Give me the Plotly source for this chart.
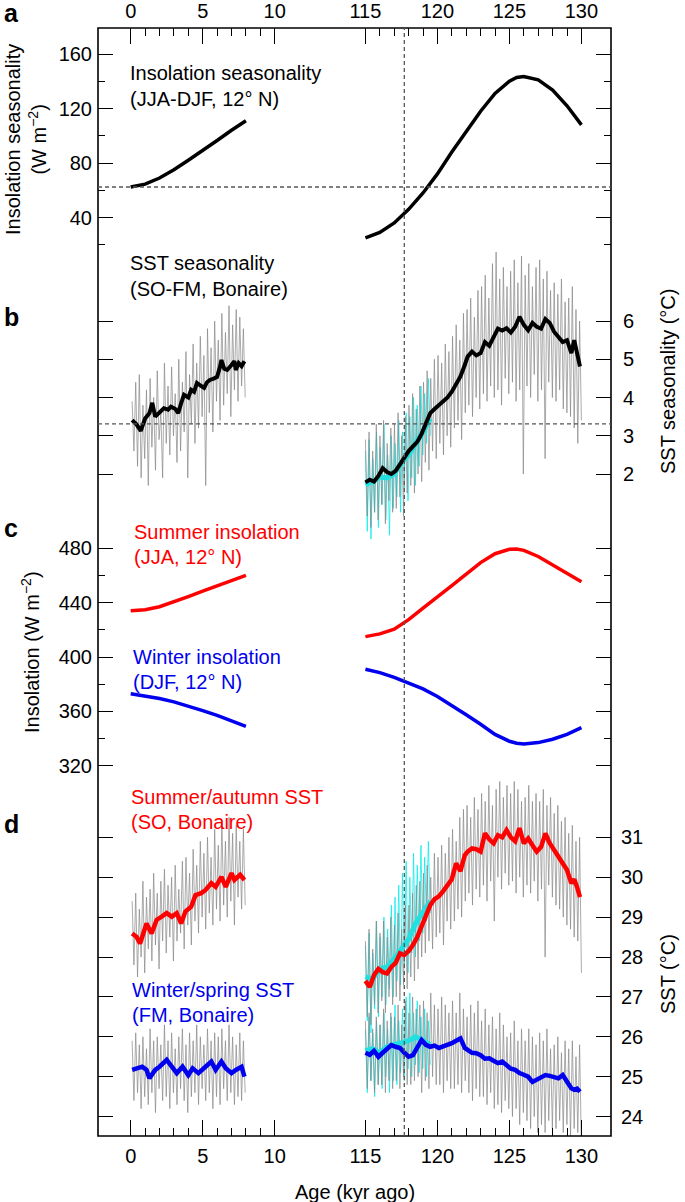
import numpy as np
import plotly.graph_objects as go

# ===================== DATA =====================
# broken age axis: 0-10 kyr and 115-130 kyr
x_tick_ages = [0, 5, 10, 115, 120, 125, 130]
x_tick_labels = ['0', '5', '10', '115', '120', '125', '130']
x_minor_ages = [1, 2, 3, 4, 6, 7, 8, 9, 116, 117, 118, 119, 121, 122, 123, 124, 126, 127, 128, 129]
event_age = 117.7

# (a) insolation seasonality JJA-DJF 12N
ins_holo_age = [0, 1, 2, 3, 4, 5, 6, 7, 8]
ins_lig_age = [115, 116, 117, 118, 119, 120, 121, 122, 123, 124, 125, 125.5, 126, 127, 128, 129, 130]
seas_holo = [62.4, 64.5, 69, 75, 82, 89, 96.5, 104, 111]
seas_lig = [25, 29, 36, 46, 58, 72, 88, 103, 118, 131, 140, 142.8, 143.5, 141, 133.5, 122, 108]
seas_ref = 62.4

# (c) summer (JJA) and winter (DJF) insolation 12N
summer_holo = [434, 434.8, 437, 440.5, 444.5, 448.5, 452.5, 456.5, 460]
summer_lig = [415, 417, 420.5, 427.5, 436, 444, 452.5, 461, 469.5, 476, 479.3, 479.5, 478.5, 474, 468, 461.5, 455.4]
winter_holo = [373, 371.5, 369.5, 367, 364, 360.5, 357, 353, 349]
winter_lig = [391, 388.5, 385, 381, 376.5, 371, 364.5, 357.5, 350.5, 343, 338, 336.5, 336, 337, 339.5, 343, 348]

# raw (monthly-resolved) coral series sample ages
raw_holo_age = np.linspace(0.1, 7.95, 64)
raw_lig_age = np.linspace(115.0, 130.0, 120)
cyan_raw_age = np.linspace(115.0, 119.5, 36)

# (b) SST seasonality (SO-FM)
b_holo_raw = [3.9, 2.6, 4.4, 2.2, 4.6, 1.9, 3.8, 2.4, 4.2, 1.7,
              4.5, 2.7, 4.0, 2.1, 4.7, 2.9, 3.6, 1.9, 4.9, 2.8,
              4.3, 2.5, 4.8, 3.0, 4.1, 2.3, 5.0, 2.6, 4.4, 3.1,
              5.2, 1.9, 4.6, 3.3, 5.4, 2.8, 4.9, 3.2, 5.6, 3.5,
              5.1, 1.7, 5.8, 3.6, 5.3, 3.1, 6.0, 3.9, 5.5, 3.4,
              6.2, 3.8, 5.7, 4.1, 6.4, 3.5, 5.9, 4.2, 6.3, 3.9,
              6.1, 4.3, 5.8, 4.0]
b_lig_raw = [2.9, 0.9, 3.1, 0.6, 2.6, 1.0, 3.3, 0.8,
             3.0, 1.2, 3.4, 0.7, 2.8, 1.3, 3.2, 1.0,
             3.3, 1.1, 3.6, 1.4, 3.0, 0.9, 3.5, 1.5,
             3.8, 1.7, 4.1, 1.5, 3.7, 2.0, 4.3, 1.8,
             4.4, 2.3, 4.7, 2.1, 4.5, 2.6, 5.0, 2.4,
             5.1, 2.8, 4.9, 2.5, 5.4, 3.0, 5.2, 2.7,
             5.6, 3.2, 5.9, 3.4, 5.5, 2.9, 6.2, 3.6,
             6.3, 3.8, 6.6, 3.5, 6.1, 4.0, 6.8, 3.7,
             6.9, 4.1, 7.2, 3.9, 6.6, 4.3, 7.5, 4.0,
             7.8, 4.2, 7.1, 3.8, 7.4, 4.5, 6.9, 4.1,
             7.3, 4.4, 7.6, 3.9, 7.0, 4.2, 7.7, 2.0,
             7.2, 4.3, 7.5, 4.0, 6.9, 4.6, 7.4, 3.9,
             7.6, 4.2, 7.1, 2.4, 7.3, 4.4, 6.8, 4.0,
             7.0, 3.9, 6.7, 4.2, 7.1, 3.7, 6.5, 3.6,
             6.6, 3.5, 6.9, 3.2, 6.3, 2.8, 6.0, 3.4]
b_cyan_raw = [2.6, 0.5, 2.9, 0.3, 2.4, 1.0, 3.1, 0.6, 2.7, 1.2,
              3.3, 0.8, 2.5, 0.4, 3.0, 1.1, 2.8, 1.4, 3.4, 1.0,
              3.1, 1.6, 3.6, 1.3, 3.5, 1.9, 4.0, 1.7, 3.8, 2.2,
              4.3, 2.5, 4.1, 2.8, 4.5, 3.0]
b_holo_age = [0.1, 0.4, 0.7, 1.0, 1.3, 1.5, 1.7, 2.0, 2.3, 2.6, 2.8, 3.1, 3.3, 3.5, 3.7, 4.0, 4.2, 4.4,
              4.6, 4.9, 5.1, 5.3, 5.5, 5.8, 6.0, 6.2, 6.3, 6.5, 6.7, 7.0, 7.2, 7.3, 7.5, 7.7, 7.9]
b_holo_smooth = [3.41, 3.3, 3.13, 3.45, 3.59, 3.86, 3.5, 3.62, 3.72, 3.68, 3.76, 3.7, 3.59, 3.85, 4.07,
                 4.0, 4.2, 4.15, 4.38, 4.3, 4.25, 4.4, 4.46, 4.5, 4.54, 4.8, 4.98, 4.75, 4.72, 4.85,
                 4.95, 4.72, 4.9, 4.82, 4.95]
lig_smooth_age = [115.0, 115.3, 115.6, 115.9, 116.2, 116.5, 116.8, 117.1, 117.4, 117.7,
                  118.0, 118.3, 118.6, 118.9, 119.2, 119.5, 119.8, 120.1, 120.4, 120.7,
                  121.0, 121.3, 121.6, 121.9, 122.1, 122.4, 122.7, 123.0, 123.3, 123.6,
                  123.9, 124.2, 124.5, 124.8, 125.1, 125.4, 125.7, 126.0, 126.3, 126.6,
                  126.9, 127.2, 127.5, 127.8, 128.1, 128.4, 128.7, 129.0, 129.3, 129.5,
                  129.7, 129.9]
b_lig_smooth = [1.78, 1.85, 1.8, 1.95, 2.15, 2.05, 2.0, 2.08, 2.25, 2.45,
                2.6, 2.72, 2.84, 3.05, 3.3, 3.59, 3.7, 3.8, 3.93, 4.0,
                4.15, 4.37, 4.55, 4.85, 5.07, 5.2, 5.1, 5.16, 5.45, 5.35,
                5.59, 5.8, 5.75, 5.81, 5.7, 5.85, 6.11, 5.9, 5.76, 5.95,
                5.85, 5.8, 6.05, 5.95, 5.72, 5.6, 5.45, 5.5, 5.16, 5.5,
                5.1, 4.81]
cyan_smooth_age = [115.0, 115.5, 116.0, 116.5, 117.0, 117.5, 118.0, 118.5, 119.0, 119.5]
b_cyan_smooth = [1.72, 1.8, 1.92, 1.9, 2.0, 2.3, 2.5, 2.78, 3.1, 3.45]
b_ref = 3.31

# (d) summer/autumn (SO) and winter/spring (FM) SST
so_holo_raw = [29.4, 27.8, 29.6, 27.5, 29.2, 28.0, 29.9, 27.6, 29.5, 28.2,
               29.7, 27.9, 30.1, 28.3, 29.6, 27.7, 29.9, 28.4, 30.2, 28.1,
               29.8, 28.5, 30.0, 27.9, 30.3, 28.4, 29.7, 28.6, 30.4, 28.2,
               30.5, 28.8, 30.1, 28.3, 30.7, 28.9, 30.3, 28.6, 30.9, 29.0,
               30.6, 28.7, 31.0, 29.1, 30.5, 28.8, 31.2, 29.2, 30.8, 28.9,
               31.4, 29.3, 30.9, 29.0, 31.5, 29.4, 31.1, 28.8, 31.3, 29.5,
               30.9, 29.2, 31.2, 29.3]
so_lig_raw = [28.4, 26.5, 28.7, 26.3, 28.2, 26.8, 28.9, 26.6,
              28.6, 26.9, 28.9, 26.6, 28.5, 27.0, 29.0, 26.8,
              28.8, 27.0, 29.1, 26.9, 28.7, 27.3, 29.3, 27.2,
              29.3, 27.5, 29.6, 27.4, 29.8, 27.7, 29.9, 28.0,
              30.1, 28.1, 30.3, 28.4, 30.0, 28.2, 30.6, 28.5,
              30.5, 28.6, 30.8, 28.3, 30.6, 28.9, 31.0, 28.7,
              31.2, 28.9, 30.9, 29.2, 31.5, 29.0, 31.7, 29.4,
              31.8, 29.6, 31.5, 29.3, 32.0, 29.7, 31.7, 29.5,
              32.1, 29.8, 31.9, 29.4, 32.3, 29.9, 31.8, 28.9,
              32.2, 30.0, 32.4, 29.7, 32.0, 30.1, 32.3, 29.8,
              32.1, 29.9, 32.4, 29.6, 32.2, 30.0, 31.9, 29.5,
              32.0, 29.8, 32.3, 29.6, 31.9, 29.9, 32.1, 29.4,
              31.9, 29.7, 32.2, 28.0, 31.8, 29.8, 32.0, 29.5,
              31.6, 29.3, 31.8, 29.2, 31.4, 29.0, 31.5, 28.8,
              31.1, 28.7, 31.3, 28.5, 30.9, 28.4, 31.0, 27.6]
so_cyan_raw = [28.3, 26.4, 28.6, 26.1, 28.1, 26.7, 28.9, 26.5, 28.5, 27.0,
               29.0, 26.8, 28.7, 27.2, 29.3, 27.0, 29.5, 27.4, 29.8, 27.3,
               30.1, 27.8, 30.4, 27.6, 30.0, 28.1, 30.6, 28.0, 30.3, 28.4,
               30.8, 28.6, 30.5, 28.9, 30.9, 29.1]
fm_holo_raw = [25.9, 24.4, 26.1, 24.6, 25.8, 24.2, 26.0, 24.5, 25.7, 24.3,
               26.2, 24.6, 25.9, 24.1, 26.0, 24.7, 25.8, 24.4, 26.3, 24.5,
               25.9, 24.2, 26.1, 24.6, 25.7, 24.3, 26.0, 24.7, 26.2, 24.4,
               25.8, 24.1, 26.1, 24.5, 25.9, 24.6, 26.3, 24.3, 26.0, 24.7,
               25.8, 24.4, 26.2, 24.6, 25.9, 24.2, 26.1, 24.5, 26.0, 24.3,
               26.2, 24.7, 25.9, 24.4, 26.3, 24.6, 26.0, 24.3, 25.8, 24.5,
               26.1, 24.4, 25.9, 24.6]
fm_lig_raw = [26.4, 24.7, 26.6, 24.9, 26.2, 24.6, 26.5, 24.8,
              26.3, 24.8, 26.7, 24.6, 26.4, 24.9, 26.6, 24.7,
              26.5, 24.9, 26.8, 24.7, 26.3, 25.0, 26.9, 24.8,
              26.6, 24.8, 27.0, 24.9, 26.7, 25.0, 26.8, 24.6,
              26.9, 24.9, 26.6, 24.7, 27.1, 25.0, 26.8, 24.8,
              26.7, 24.8, 27.0, 24.6, 26.8, 24.9, 26.6, 24.7,
              26.9, 24.7, 26.6, 24.8, 27.1, 24.6, 26.7, 24.9,
              26.5, 24.6, 26.8, 24.4, 26.6, 24.7, 26.9, 24.5,
              26.4, 24.5, 26.7, 24.3, 26.3, 24.6, 26.5, 24.2,
              26.2, 24.3, 26.6, 24.1, 26.3, 24.4, 26.0, 24.2,
              26.1, 24.0, 26.4, 24.2, 25.9, 23.8, 26.2, 24.1,
              25.9, 23.9, 26.2, 23.7, 26.0, 24.0, 25.8, 23.6,
              26.1, 23.8, 25.9, 23.6, 26.2, 23.9, 25.7, 23.7,
              25.8, 23.7, 26.0, 23.9, 25.6, 23.6, 25.9, 23.8,
              25.7, 23.5, 25.9, 23.7, 25.5, 23.6, 25.8, 23.2]
fm_cyan_raw = [26.2, 24.6, 26.5, 24.9, 26.1, 24.5, 26.4, 24.8, 26.3, 24.7,
               26.6, 25.0, 26.2, 24.6, 26.5, 24.9, 26.8, 24.8, 26.4, 25.1,
               26.7, 24.9, 27.0, 25.2, 27.1, 25.0, 26.6, 25.3, 26.9, 25.1,
               26.5, 25.2, 26.7, 25.0, 26.4, 25.3]
so_holo_age = [0.1, 0.4, 0.65, 0.9, 1.1, 1.45, 1.8, 2.15, 2.5, 2.85, 3.2, 3.5, 3.8, 4.2, 4.5,
               4.9, 5.2, 5.6, 5.9, 6.3, 6.6, 7.0, 7.2, 7.6, 7.9]
so_holo_smooth = [28.59, 28.51, 28.34, 28.63, 28.84, 28.59, 28.93, 29.01, 29.1, 29.01, 29.1, 28.84,
                  29.14, 29.26, 29.55, 29.6, 29.68, 29.85, 29.76, 30.01, 29.76, 30.1, 29.93, 30.06, 29.93]
fm_holo_age = [0.1, 0.4, 0.8, 1.1, 1.3, 1.7, 2.0, 2.5, 2.8, 3.2, 3.6, 4.0, 4.3, 4.7, 5.2, 5.6,
               5.9, 6.3, 6.6, 7.0, 7.3, 7.7, 7.9]
fm_holo_smooth = [25.17, 25.21, 25.25, 25.17, 24.96, 25.17, 25.25, 25.42, 25.29, 25.09, 25.25, 25.04,
                  25.21, 25.09, 25.25, 25.38, 25.17, 25.38, 25.21, 25.09, 25.17, 25.25, 25.0]
so_lig_smooth = [27.4, 27.25, 27.55, 27.7, 27.62, 27.59, 27.75, 27.85, 28.09, 28.05,
                 28.15, 28.3, 28.5, 28.75, 29.05, 29.3, 29.45, 29.52, 29.65, 29.8,
                 29.95, 30.35, 30.15, 30.55, 30.64, 30.72, 30.7, 30.64, 31.1, 30.95,
                 30.85, 31.05, 31.0, 31.18, 31.0, 30.9, 31.23, 30.85, 30.97, 30.8,
                 30.64, 30.76, 31.1, 30.85, 30.68, 30.5, 30.35, 30.18, 29.85, 29.95,
                 29.75, 29.5]
fm_lig_smooth = [25.6, 25.55, 25.65, 25.5, 25.6, 25.7, 25.79, 25.75, 25.72, 25.6,
                 25.5, 25.54, 25.75, 25.92, 25.8, 25.75, 25.78, 25.72, 25.76, 25.79,
                 25.84, 25.9, 25.96, 25.72, 25.67, 25.6, 25.59, 25.54, 25.45, 25.46,
                 25.4, 25.34, 25.38, 25.3, 25.2, 25.17, 25.09, 25.05, 25.0, 24.87,
                 24.92, 24.96, 25.04, 25.02, 25.0, 24.96, 25.04, 24.85, 24.71, 24.67,
                 24.7, 24.62]
so_cyan_smooth = [27.5, 27.45, 27.7, 27.75, 27.95, 28.2, 28.45, 28.85, 29.15, 29.4]
fm_cyan_smooth = [25.65, 25.7, 25.6, 25.75, 25.8, 25.85, 25.9, 26.0, 25.9, 25.8]

a_ticks, a_minor = [40, 80, 120, 160], [20, 60, 100, 140]
b_ticks = [2, 3, 4, 5, 6]
c_ticks, c_minor = [320, 360, 400, 440, 480], [340, 380, 420, 460]
d_ticks = [24, 25, 26, 27, 28, 29, 30, 31]

# ===================== LAYOUT GEOMETRY =====================
W, H = 685, 1202
L, R, T, B = 98, 611, 28, 1136          # frame in page pixels
GAP_SHIFT = 98.7                        # 115 kyr drawn at 16.3 on the broken axis
PX_PER_KYR = 14.4
X0_PX = 130.7                           # page pixel of age 0


def t(age):
    return age if age <= 10 else age - GAP_SHIFT


def tx(ages):
    return [t(float(a)) for a in ages]


x_range = [(L - X0_PX) / PX_PER_KYR, (R - X0_PX) / PX_PER_KYR]


def y_range(v1, p1, v2, p2):
    s = (p2 - p1) / (v1 - v2)          # px per unit
    return [v1 - (B - p1) / s, v1 + (p1 - T) / s]


ra = y_range(160, 54, 40, 217.5)
rb = y_range(6, 321, 2, 474)
rc = y_range(480, 548.3, 320, 765.7)
rd = y_range(31, 837.3, 24, 1116.6)

FONT = "Liberation Sans, Arial, Helvetica, sans-serif"
GRAY = "rgba(135,135,135,0.7)"
CYAN = "rgba(0,235,235,0.75)"
RED = "#ff0000"
BLUE = "#0000ee"

fig = go.Figure()


def add_line(ages, vals, yax, color, width, xax="x"):
    fig.add_trace(go.Scatter(x=tx(ages), y=vals, mode="lines", xaxis=xax, yaxis=yax,
                             line=dict(color=color, width=width), hoverinfo="skip",
                             showlegend=False))


# panel a
add_line(ins_holo_age, seas_holo, "y", "black", 3.5)
add_line(ins_lig_age, seas_lig, "y", "black", 3.5)
# panel b
add_line(cyan_raw_age, b_cyan_raw, "y2", CYAN, 1)
add_line(raw_holo_age, b_holo_raw, "y2", GRAY, 1)
add_line(raw_lig_age, b_lig_raw, "y2", GRAY, 1)
add_line(cyan_smooth_age, b_cyan_smooth, "y2", "#22e0e0", 5)
add_line(b_holo_age, b_holo_smooth, "y2", "black", 4)
add_line(lig_smooth_age, b_lig_smooth, "y2", "black", 4)
# panel c
add_line(ins_holo_age, summer_holo, "y3", RED, 3.5)
add_line(ins_lig_age, summer_lig, "y3", RED, 3.5)
add_line(ins_holo_age, winter_holo, "y3", BLUE, 3.5)
add_line(ins_lig_age, winter_lig, "y3", BLUE, 3.5)
# panel d
add_line(cyan_raw_age, so_cyan_raw, "y4", CYAN, 1)
add_line(cyan_raw_age, fm_cyan_raw, "y4", CYAN, 1)
add_line(raw_holo_age, so_holo_raw, "y4", GRAY, 1)
add_line(raw_lig_age, so_lig_raw, "y4", GRAY, 1)
add_line(raw_holo_age, fm_holo_raw, "y4", GRAY, 1)
add_line(raw_lig_age, fm_lig_raw, "y4", GRAY, 1)
add_line(cyan_smooth_age, so_cyan_smooth, "y4", "#22e0e0", 5)
add_line(cyan_smooth_age, fm_cyan_smooth, "y4", "#22e0e0", 5)
add_line(so_holo_age, so_holo_smooth, "y4", RED, 4.5)
add_line(lig_smooth_age, so_lig_smooth, "y4", RED, 4.5)
add_line(fm_holo_age, fm_holo_smooth, "y4", BLUE, 4.5)
add_line(lig_smooth_age, fm_lig_smooth, "y4", BLUE, 4.5)
# invisible trace so the top (label) axis is drawn
fig.add_trace(go.Scatter(x=[0], y=[0], xaxis="x2", yaxis="y", mode="markers",
                         marker=dict(opacity=0), hoverinfo="skip", showlegend=False))

tickfont = dict(family=FONT, size=20, color="black")
common_x = dict(range=x_range, tickmode="array", tickvals=tx(x_tick_ages), ticktext=x_tick_labels,
                showgrid=False, zeroline=False, showline=False, tickfont=tickfont, automargin=False)
fig.update_layout(
    xaxis=dict(**common_x, side="bottom", anchor="y", ticks="inside", ticklen=16, tickwidth=1.3,
               tickcolor="black", mirror="ticks", ticklabelstandoff=6,
               minor=dict(tickmode="array", tickvals=tx(x_minor_ages), ticks="inside", ticklen=8,
                          tickwidth=1.3, tickcolor="black")),
    xaxis2=dict(**common_x, side="top", anchor="y", overlaying="x", ticks="", ticklabelstandoff=5),
)


def yax(rng, ticks, side, minor=None, overlay=True, standoff=5):
    d = dict(range=rng, domain=[0, 1], anchor="x", side=side, tickmode="array", tickvals=ticks,
             ticks="inside", ticklen=15, tickwidth=1.3, tickcolor="black", mirror="ticks",
             showgrid=False, zeroline=False, showline=False, tickfont=tickfont,
             ticklabelstandoff=standoff, automargin=False)
    if minor:
        d["minor"] = dict(tickmode="array", tickvals=minor, ticks="inside", ticklen=7,
                          tickwidth=1.3, tickcolor="black")
    if overlay:
        d["overlaying"] = "y"
    return d


fig.update_layout(
    yaxis=yax(ra, a_ticks, "left", a_minor, overlay=False, standoff=5),
    yaxis2=yax(rb, b_ticks, "right", standoff=11),
    yaxis3=yax(rc, c_ticks, "left", c_minor, standoff=5),
    yaxis4=yax(rd, d_ticks, "right", standoff=9),
)

# frame and dashed reference lines
shapes = [
    dict(type="rect", xref="paper", yref="paper", x0=0, x1=1, y0=0, y1=1,
         line=dict(color="black", width=1.6)),
    dict(type="line", xref="x", yref="paper", x0=t(event_age), x1=t(event_age), y0=0, y1=1,
         line=dict(color="#555555", width=1.3, dash="4px,3px")),
    dict(type="line", xref="paper", yref="y", x0=0, x1=1, y0=seas_ref, y1=seas_ref,
         line=dict(color="#555555", width=1.3, dash="4px,3px")),
    dict(type="line", xref="paper", yref="y2", x0=0, x1=1, y0=b_ref, y1=b_ref,
         line=dict(color="#555555", width=1.3, dash="4px,3px")),
]


def px(x, y):
    return (x - L) / (R - L), (B - y) / (B - T)


annotations = []


def ann(text, x, y, color="black", size=20, xanchor="left", angle=0, bold=False):
    xp, yp = px(x, y)
    if bold:
        text = "<b>" + text + "</b>"
    annotations.append(dict(text=text, x=xp, y=yp, xref="paper", yref="paper", xanchor=xanchor,
                            yanchor="middle", showarrow=False, textangle=angle,
                            font=dict(family=FONT, size=size, color=color)))


for letter, ly in [("a", 13), ("b", 317), ("c", 528), ("d", 824)]:
    ann(letter, 2, ly, size=25, bold=True)

ann("Insolation seasonality", 128, 73)
ann("(JJA-DJF, 12° N)", 128, 99)
ann("SST seasonality", 128, 263)
ann("(SO-FM, Bonaire)", 128, 289)
ann("Summer insolation", 132, 532, color=RED)
ann("(JJA, 12° N)", 132, 557, color=RED)
ann("Winter insolation", 131, 657, color=BLUE)
ann("(DJF, 12° N)", 131, 682, color=BLUE)
ann("Summer/autumn SST", 129, 797, color=RED)
ann("(SO, Bonaire)", 129, 822, color=RED)
ann("Winter/spring SST", 130, 990, color=BLUE)
ann("(FM, Bonaire)", 130, 1015, color=BLUE)

ann("Insolation seasonality<br>(W m<sup>−2</sup>)", 26, 140, xanchor="center", angle=-90)
ann("SST seasonality (°C)", 668, 382, xanchor="center", angle=-90)
ann("Insolation (W m<sup>−2</sup>)", 30, 652, xanchor="center", angle=-90)
ann("SST (°C)", 668, 974, xanchor="center", angle=-90)
ann("Age (kyr ago)", 354.5, 1192, xanchor="center")

fig.update_layout(
    width=W, height=H, autosize=False,
    margin=dict(l=L, r=W - R, t=T, b=H - B, pad=0, autoexpand=False),
    paper_bgcolor="white", plot_bgcolor="white",
    shapes=shapes, annotations=annotations, showlegend=False,
    font=dict(family=FONT, size=20, color="black"),
)

# remove the browser's default 8px page margin so the figure starts at the window corner
fig.write_html("out.html", config={"displayModeBar": False},
               post_script="document.body.style.margin='0px';")
